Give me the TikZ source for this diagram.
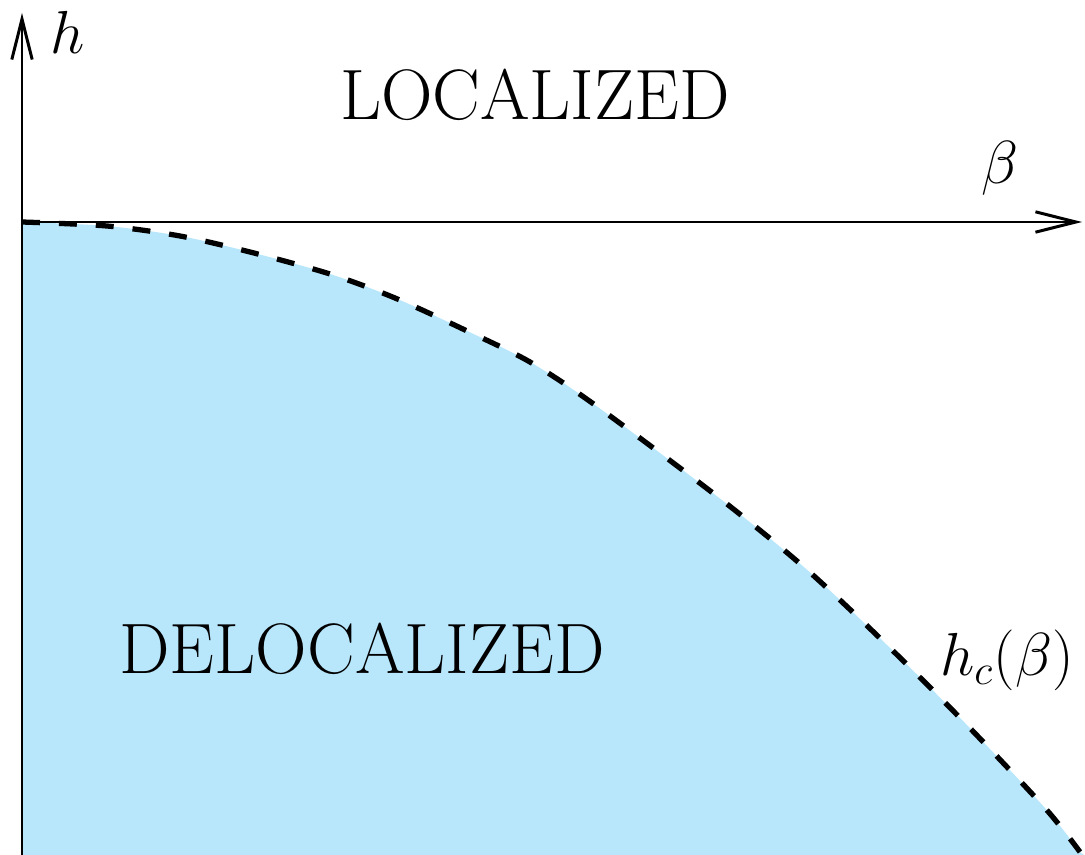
\documentclass[tikz,border=0pt]{standalone}
\usetikzlibrary{arrows.meta}
\definecolor{delocblue}{RGB}{184,230,251}
\tikzset{
  axis/.style={line width=0.85pt,-{Straight Barb[length=11.5pt,width=5.8pt,line width=0.85pt]}},
  boundary/.style={line width=1.5pt,dash pattern=on 5.1pt off 5.4pt},
  mlbl/.style={inner sep=0pt,font=\fontsize{18.5}{22}\selectfont},
  tlbl/.style={inner sep=0pt,font=\fontsize{20.3}{24}\selectfont},
}
\begin{document}
\begin{tikzpicture}[x=0.01cm,y=-0.01cm]
\useasboundingbox (0,0) rectangle (1085,855);
\coordinate (O) at (22,222);
\coordinate (ytop) at (22,13);
\coordinate (ybot) at (22,855);
\coordinate (xend) at (1082,222);
\def\curvepts{(22,222) (107,226) (180,236) (250,252) (330,274) (395,298) (465,330) (530,362) (595,405) (718,497) (805,568) (887,645) (965,723) (1045,808) (1080,852)}
\fill[delocblue] plot[smooth,tension=0.5] coordinates {\curvepts} -- (1084,855) -- (22,855) -- cycle;
\draw[axis] (ybot) -- (ytop);
\draw[axis] (O) -- (xend);
\draw[boundary] plot[smooth,tension=0.5] coordinates {\curvepts};
\node[mlbl] (hlab) at (68,32) {$h$};
\node[mlbl] (blab) at (1000,168) {$\beta$};
\node[tlbl] (loc) at (535,95) {LOCALIZED};
\node[tlbl] (deloc) at (362,649) {DELOCALIZED};
\node[mlbl] (hc) at (1007,660) {$h_c(\beta)$};
\end{tikzpicture}
\end{document}
